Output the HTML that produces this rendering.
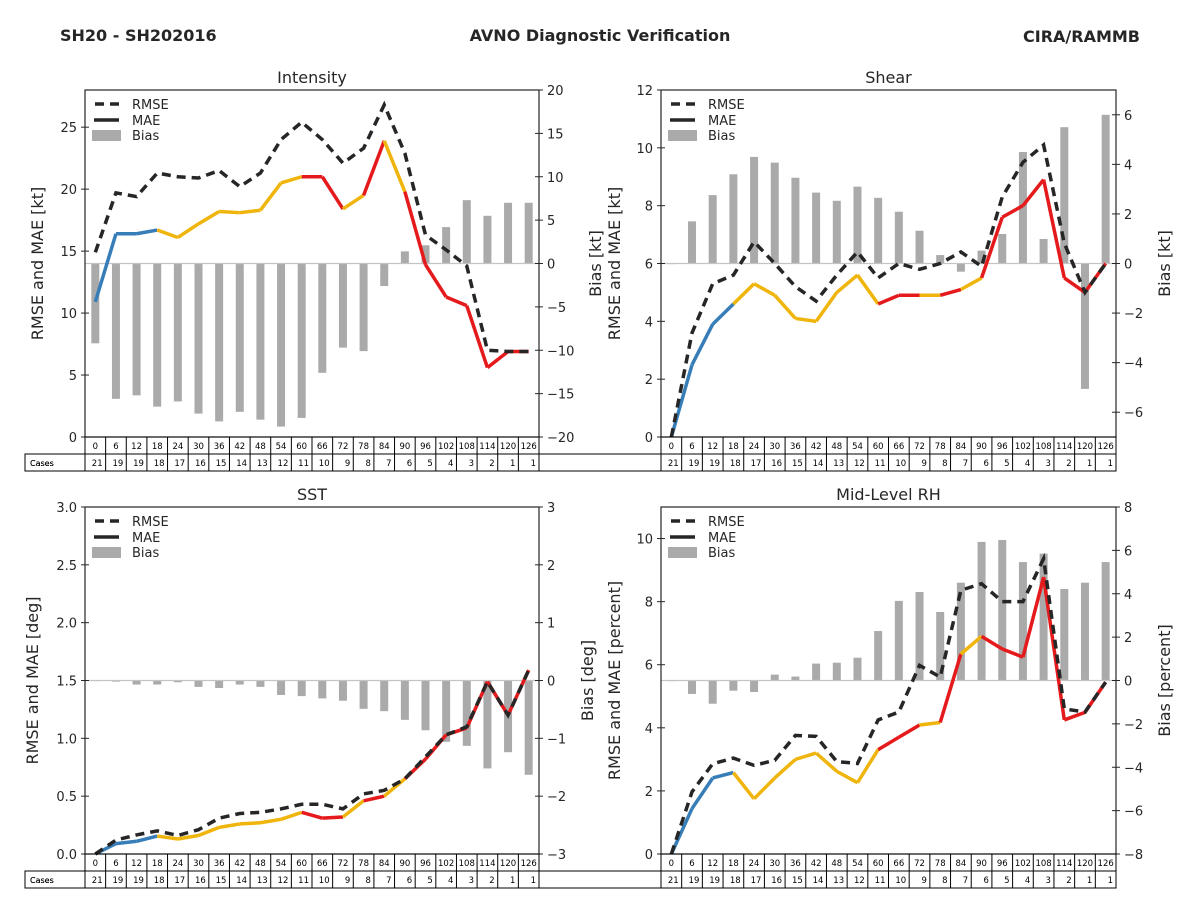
<!DOCTYPE html>
<html><head><meta charset="utf-8">
<style>
html,body{margin:0;padding:0;background:#fff;}
svg{display:block;font-family:"DejaVu Sans","Liberation Sans",sans-serif;}
</style></head>
<body>
<svg id="fig" width="1200" height="900" viewBox="0 0 1200 900" xmlns="http://www.w3.org/2000/svg">
<rect width="1200" height="900" fill="#fff"/>
<text x="60" y="41" font-size="16" font-weight="bold" fill="#262626">SH20 - SH202016</text>
<text x="600" y="41" font-size="16" font-weight="bold" fill="#262626" text-anchor="middle">AVNO Diagnostic Verification</text>
<text x="1140" y="42" font-size="16" font-weight="bold" fill="#262626" text-anchor="end">CIRA/RAMMB</text>
</svg>
<script>
const hours = [0,6,12,18,24,30,36,42,48,54,60,66,72,78,84,90,96,102,108,114,120,126];
const cases = [21,19,19,18,17,16,15,14,13,12,11,10,9,8,7,6,5,4,3,2,1,1];
const segColors = ['b','b','b','y','y','y','y','y','y','y','r','r','y','r','y','r','r','r','r','r','r'];

const intRmse = [14.9,19.7,19.4,21.3,21.0,20.9,21.5,20.2,21.3,24.0,25.4,24.0,22.1,23.3,26.8,22.9,16.3,15.1,13.8,7.0,6.9,6.9];
const intMae = [10.9,16.4,16.4,16.7,16.1,17.2,18.2,18.1,18.3,20.5,21.0,21.0,18.4,19.5,23.9,19.8,13.9,11.3,10.6,5.6,6.9,6.9];
const intBias = [-9.2,-15.6,-15.2,-16.5,-15.9,-17.3,-18.2,-17.1,-18.0,-18.8,-17.8,-12.6,-9.7,-10.1,-2.6,1.4,2.1,4.2,7.3,5.5,7.0,7.0];

const shrRmse = [0,3.6,5.3,5.6,6.75,6.0,5.2,4.7,5.6,6.4,5.5,6.0,5.8,6.0,6.4,5.9,8.3,9.5,10.1,6.7,5.0,6.0];
const shrMae = [0,2.5,3.9,4.6,5.3,4.9,4.1,4.0,5.0,5.6,4.6,4.9,4.9,4.9,5.1,5.5,7.6,8.0,8.9,5.5,5.0,6.0];
const shrBias = [0,1.7,2.76,3.6,4.3,4.07,3.46,2.86,2.53,3.1,2.65,2.09,1.32,0.34,-0.33,0.52,1.19,4.5,0.99,5.5,-5.06,6.0];

const sstRmse = [0,0.12,0.165,0.2,0.16,0.21,0.31,0.35,0.36,0.39,0.43,0.43,0.39,0.52,0.55,0.65,0.84,1.03,1.1,1.49,1.2,1.59];
const sstMae = [0,0.09,0.11,0.155,0.13,0.16,0.23,0.26,0.27,0.3,0.36,0.31,0.32,0.46,0.5,0.65,0.82,1.03,1.09,1.49,1.2,1.59];
const sstBias = [-0.01,-0.02,-0.07,-0.07,-0.03,-0.11,-0.13,-0.07,-0.11,-0.25,-0.27,-0.31,-0.35,-0.49,-0.53,-0.68,-0.86,-1.06,-1.13,-1.52,-1.24,-1.63];

const rhRmse = [0,1.97,2.86,3.04,2.81,2.97,3.76,3.73,2.93,2.87,4.25,4.5,5.98,5.61,8.36,8.57,8.0,8.0,9.36,4.6,4.5,5.45];
const rhMae = [0,1.44,2.41,2.58,1.75,2.41,3.0,3.2,2.62,2.26,3.31,3.7,4.09,4.17,6.34,6.9,6.5,6.24,8.78,4.25,4.49,5.45];
const rhBias = [0,-0.62,-1.07,-0.47,-0.53,0.27,0.18,0.78,0.82,1.05,2.28,3.67,4.08,3.16,4.51,6.39,6.48,5.46,5.85,4.22,4.51,5.46];

const intLeftTicks = [0,5,10,15,20,25];
const intRightTicks = [-20,-15,-10,-5,0,5,10,15,20];
const shrLeftTicks = [0,2,4,6,8,10,12];
const shrRightTicks = [-6,-4,-2,0,2,4,6];
const sstLeftTicks = [0,0.5,1,1.5,2,2.5,3];
const sstRightTicks = [-3,-2,-1,0,1,2,3];
const rhLeftTicks = [0,2,4,6,8,10];
const rhRightTicks = [-8,-6,-4,-2,0,2,4,6,8];

const NS='http://www.w3.org/2000/svg';
const svg=document.getElementById('fig');
const COL={b:'#377eb8',y:'#f0b50c',r:'#e41a1c'};
function mk(tag,attrs,parent){const e=document.createElementNS(NS,tag);for(const k in attrs)e.setAttribute(k,attrs[k]);(parent||svg).appendChild(e);return e;}

function panel(o){
  const g=mk('g',{});
  
  
  const L=o.x,T=o.y,W=o.w,H=o.h,R=L+W,B=T+H;
  const xs=h=>L+(h+3)/132*W;
  const yl=v=>B-(v-0)/o.lmax*H;
  const yr=v=>B-(v-o.rmin)/(o.rmax-o.rmin)*H;
  const bw=8;
  o.bias.forEach((v,i)=>{
    const y0=yr(0),y1=yr(v);
    const r=mk('rect',{x:xs(hours[i])-bw/2,y:Math.min(y0,y1),width:bw,height:Math.max(0.6,Math.abs(y1-y0)),fill:'#aaaaaa'},g);
    
    
  });
  const zl=mk('line',{x1:L,x2:R,y1:yr(0),y2:yr(0),stroke:'#c4c4c4','stroke-width':1.2},g);
  
  
  for(let i=0;i<o.mae.length-1;i++){
    const s=mk('line',{x1:xs(hours[i]),y1:yl(o.mae[i]),x2:xs(hours[i+1]),y2:yl(o.mae[i+1]),stroke:COL[segColors[i]],'stroke-width':3.5,'stroke-linecap':'butt'},g);
    
    
  }
  const p=mk('polyline',{points:o.rmse.map((v,i)=>xs(hours[i])+','+yl(v)).join(' '),fill:'none',stroke:'#262626','stroke-width':3.5,'stroke-dasharray':'9 6'},g);
  
  
  const fr=mk('rect',{x:L,y:T,width:W,height:H,fill:'none',stroke:'#262626','stroke-width':1.2},g);
  
  
  o.lt.forEach(v=>{
    const y=yl(v);
    mk('line',{x1:L-4,x2:L,y1:y,y2:y,stroke:'#262626'},g);
    mk('line',{x1:L,x2:L+4,y1:y,y2:y,stroke:'#262626'},g);
    const t=mk('text',{x:L-8,y:y+5,'font-size':13,'text-anchor':'end',fill:'#262626'},g);
    t.textContent=o.lfmt?v.toFixed(1):v;
    
    
  });
  o.rt.forEach(v=>{
    const y=yr(v);
    mk('line',{x1:R,x2:R+4,y1:y,y2:y,stroke:'#262626'},g);
    mk('line',{x1:R-4,x2:R,y1:y,y2:y,stroke:'#262626'},g);
    const t=mk('text',{x:R+8,y:y+5,'font-size':13,fill:'#262626'},g);
    t.textContent=v<0?'\u2212'+Math.abs(v):v;
    
    
  });
  const tt=mk('text',{x:L+W/2,y:T-7,'font-size':16,'text-anchor':'middle',fill:'#262626'},g);
  tt.textContent=o.title;
  
  
  const ly=mk('text',{x:0,y:0,'font-size':16,'text-anchor':'middle',fill:'#262626',transform:`translate(${o.lyx},${T+H/2}) rotate(-90)`},g);
  ly.textContent=o.ylab;
  
  
  const ry=mk('text',{x:0,y:0,'font-size':16,'text-anchor':'middle',fill:'#262626',transform:`translate(${o.ryx},${T+H/2}) rotate(-90)`},g);
  ry.textContent=o.rlab;
  
  
  const lg=mk('g',{},g);
  
  
  mk('line',{x1:L+10,x2:L+37,y1:T+14,y2:T+14,stroke:'#262626','stroke-width':3.5,'stroke-dasharray':'9 6'},lg);
  mk('line',{x1:L+9,x2:L+34,y1:T+30,y2:T+30,stroke:'#262626','stroke-width':3.5},lg);
  mk('rect',{x:L+7,y:T+40,width:29,height:11,fill:'#aaaaaa'},lg);
  [['RMSE',T+19],['MAE',T+35],['Bias',T+50]].forEach(([s,y])=>{
    const t=mk('text',{x:L+47,y:y,'font-size':13,fill:'#262626'},lg);t.textContent=s;
    
    
  });
  const tb=mk('g',{},g);
  
  
  const cw=W/22;
  mk('rect',{x:L,y:B,width:W,height:17,fill:'none',stroke:'#000','stroke-width':1},tb);
  mk('rect',{x:25,y:B+17,width:R-25,height:17,fill:'none',stroke:'#000','stroke-width':1},tb);
  mk('line',{x1:L,x2:L,y1:B+17,y2:B+34,stroke:'#000'},tb);
  const lc=mk('text',{x:30,y:B+29,'font-size':8,fill:'#000'},tb);lc.textContent='Cases';
  hours.forEach((h,i)=>{
    const cx=L+cw*i;
    if(i>0){mk('line',{x1:cx,x2:cx,y1:B,y2:B+34,stroke:'#000'},tb);}
    const t=mk('text',{x:cx+cw/2,y:B+12,'font-size':8.5,'text-anchor':'middle',fill:'#000'},tb);t.textContent=h;
    
    
    const c=mk('text',{x:cx+cw-3,y:B+29,'font-size':8.5,'text-anchor':'end',fill:'#000'},tb);c.textContent=cases[i];
    
    
  });
}
panel({key:'intensity',title:'Intensity',x:85,y:90,w:454,h:347,lmax:28,rmin:-20,rmax:20,lt:intLeftTicks,rt:intRightTicks,rmse:intRmse,mae:intMae,bias:intBias,ylab:'RMSE and MAE [kt]',rlab:'Bias [kt]',lyx:43,ryx:601});
panel({key:'shear',title:'Shear',x:661,y:90,w:455,h:347,lmax:12,rmin:-7,rmax:7,lt:shrLeftTicks,rt:shrRightTicks,rmse:shrRmse,mae:shrMae,bias:shrBias,ylab:'RMSE and MAE [kt]',rlab:'Bias [kt]',lyx:620,ryx:1170});
panel({key:'sst',title:'SST',x:85,y:507,w:454,h:347,lmax:3,rmin:-3,rmax:3,lt:sstLeftTicks,rt:sstRightTicks,rmse:sstRmse,mae:sstMae,bias:sstBias,ylab:'RMSE and MAE [deg]',rlab:'Bias [deg]',lyx:38,ryx:593,lfmt:true});
panel({key:'rh',title:'Mid-Level RH',x:661,y:507,w:455,h:347,lmax:11,rmin:-8,rmax:8,lt:rhLeftTicks,rt:rhRightTicks,rmse:rhRmse,mae:rhMae,bias:rhBias,ylab:'RMSE and MAE [percent]',rlab:'Bias [percent]',lyx:620,ryx:1170});
</script>
</body></html>
